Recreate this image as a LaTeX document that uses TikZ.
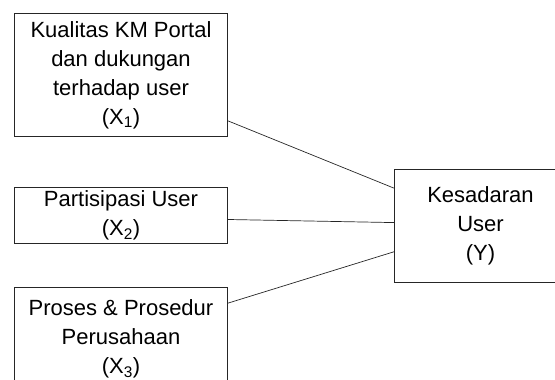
\documentclass[tikz,border=0pt]{standalone}
\usepackage{fontspec}
\setmainfont{Liberation Sans}
\usetikzlibrary{calc}
\tikzset{
  varbox/.style={draw=black!85, line width=1pt, fill=white, anchor=north west,
    align=center, inner sep=0pt, font={\fontsize{22}{29}\selectfont}},
  link/.style={draw=black!85, line width=0.7pt}
}
\begin{document}
\begin{tikzpicture}[x=1pt,y=-1pt]
  \useasboundingbox (0,0) rectangle (555,380);
  \clip (0,0) rectangle (555,380);
  % independent variables
  \node[varbox, minimum width=213pt, minimum height=123pt] (x1) at (14,13)
    {Kualitas KM Portal\\dan dukungan\\terhadap user\\(X\textsubscript{1})};
  \node[varbox, minimum width=213pt, minimum height=56pt] (x2) at (14,187)
    {Partisipasi User\\(X\textsubscript{2})};
  \node[varbox, minimum width=213pt, minimum height=103pt] (x3) at (14,287)
    {Proses \& Prosedur\\Perusahaan\\(X\textsubscript{3})};
  % dependent variable
  \node[varbox, minimum width=172pt, minimum height=113pt] (y) at (394,169)
    {Kesadaran\\User\\(Y)};
  % links
  \draw[link] ($(x1.north east)!0.87!(x1.south east)$) -- ($(y.north west)!0.168!(y.south west)$);
  \draw[link] ($(x2.north east)!0.57!(x2.south east)$) -- ($(y.north west)!0.47!(y.south west)$);
  \draw[link] ($(x3.north east)!0.155!(x3.south east)$) -- ($(y.north west)!0.726!(y.south west)$);
\end{tikzpicture}
\end{document}
